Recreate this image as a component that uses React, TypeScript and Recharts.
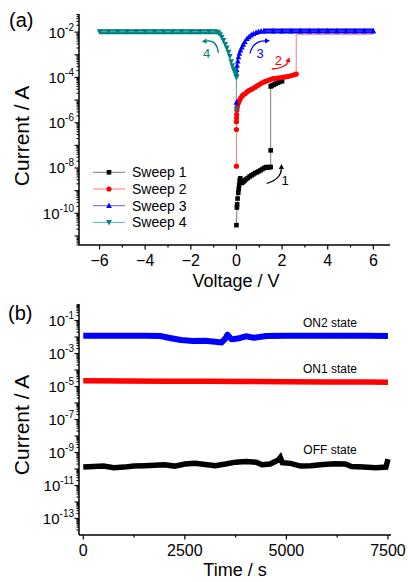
import React from "react";
import { LineChart, Line, XAxis, YAxis } from "recharts";

const FONT = "'Liberation Sans', Arial, Helvetica, sans-serif";

// (a) current-voltage sweeps, V in volts, I in amps
const sweep1V = [0, 0.02, 0.03, 0.05, 0.08, 0.1, 0.12, 0.14, 0.17, 0.2, 0.25, 0.3, 0.36, 0.42, 0.5, 0.58, 0.66, 0.74, 0.82, 0.9, 0.98, 1.06, 1.14, 1.22, 1.3, 1.38, 1.45, 1.5, 1.5, 1.5, 1.56, 1.64, 1.72, 1.8, 1.9, 2.0];
const sweep1I = [3e-11, 1.8e-10, 2.5e-10, 4.5e-10, 8e-10, 1.2e-9, 1.8e-9, 2.8e-9, 3.5e-9, 2.5e-9, 2.2e-9, 2.5e-9, 2.8e-9, 3.2e-9, 3.6e-9, 4.2e-9, 4.8e-9, 5.3e-9, 6e-9, 6.5e-9, 7.2e-9, 8e-9, 9e-9, 1e-8, 1.1e-8, 1.05e-8, 1.1e-8, 1.1e-8, 6e-8, 4e-5, 4.4e-5, 4.8e-5, 5.3e-5, 5.8e-5, 6.3e-5, 6.8e-5];

const sweep2V = [0, 0, 0, 0.005, 0.01, 0.02, 0.04, 0.07, 0.1, 0.14, 0.19, 0.25, 0.31, 0.38, 0.46, 0.54, 0.63, 0.72, 0.82, 0.92, 1.02, 1.13, 1.24, 1.36, 1.48, 1.6, 1.73, 1.86, 2.0, 2.13, 2.26, 2.4, 2.52, 2.62, 2.62, 6.0];
const sweep2I = [1.2e-8, 5e-7, 1.1e-6, 1.6e-6, 2.3e-6, 3.6e-6, 5e-6, 6.8e-6, 8.5e-6, 1e-5, 1.25e-5, 1.5e-5, 1.75e-5, 1.9e-5, 2.3e-5, 2.6e-5, 2.9e-5, 3.2e-5, 3.7e-5, 4.3e-5, 5e-5, 5.8e-5, 6.5e-5, 7.2e-5, 8e-5, 8.8e-5, 9.2e-5, 9.5e-5, 1e-4, 1.05e-4, 1.1e-4, 1.2e-4, 1.3e-4, 1.4e-4, 8e-3, 8e-3];

const sweep3V = [0, 0, 0.01, 0.03, 0.06, 0.09, 0.13, 0.18, 0.24, 0.3, 0.37, 0.46, 0.55, 0.65, 0.75, 0.86, 0.97, 1.08, 1.2, 1.6, 2.0, 2.4, 2.8, 3.2, 3.6, 4.0, 4.4, 4.8, 5.2, 5.6, 6.0];
const sweep3I = [8e-6, 1.5e-4, 2.2e-4, 3.4e-4, 5.3e-4, 8e-4, 1.15e-3, 1.6e-3, 2.2e-3, 2.9e-3, 3.8e-3, 5.1e-3, 6.2e-3, 7.4e-3, 8.5e-3, 9.6e-3, 1.05e-2, 1.1e-2, 1.12e-2, 1.12e-2, 1.12e-2, 1.12e-2, 1.12e-2, 1.12e-2, 1.12e-2, 1.12e-2, 1.12e-2, 1.12e-2, 1.12e-2, 1.12e-2, 1.12e-2];
const sweep3FlatV = [1.2, 6.0];
const sweep3FlatI = [1.12e-2, 1.12e-2];

const sweep4V = [0, 0, -0.02, -0.05, -0.09, -0.13, -0.18, -0.23, -0.29, -0.35, -0.42, -0.49, -0.57, -0.64, -0.71, -0.78, -0.85, -1.2, -1.6, -2.0, -2.4, -2.8, -3.2, -3.6, -4.0, -4.4, -4.8, -5.2, -5.6, -6.0];
const sweep4I = [4e-6, 1e-4, 1.3e-4, 1.6e-4, 1.9e-4, 2.3e-4, 3.3e-4, 5e-4, 8.5e-4, 1.3e-3, 2e-3, 2.9e-3, 4.3e-3, 6e-3, 7.8e-3, 9.3e-3, 1.02e-2, 1.05e-2, 1.05e-2, 1.05e-2, 1.05e-2, 1.05e-2, 1.05e-2, 1.05e-2, 1.05e-2, 1.05e-2, 1.05e-2, 1.05e-2, 1.05e-2, 1.05e-2];
const sweep4FlatV = [-0.85, -6.0];
const sweep4FlatI = [1.05e-2, 1.05e-2];

const voltTicks = [-6, -5, -4, -3, -2, -1, 0, 1, 2, 3, 4, 5, 6];
const voltLabels = [-6, -4, -2, 0, 2, 4, 6];
const ivLabelExps = [-10, -8, -6, -4, -2];

// (b) retention, t in seconds, I in amps
const offT = [0, 250, 500, 750, 1000, 1250, 1500, 1750, 2000, 2250, 2500, 2750, 3000, 3250, 3500, 3750, 4000, 4250, 4400, 4600, 4800, 4850, 4900, 5100, 5350, 5600, 5900, 6200, 6450, 6600, 6900, 7200, 7450, 7500];
const offI = [1.3e-10, 1.4e-10, 1.5e-10, 1.2e-10, 1.3e-10, 1.5e-10, 1.6e-10, 1.7e-10, 1.8e-10, 1.5e-10, 2.0e-10, 2.2e-10, 1.9e-10, 1.6e-10, 2.0e-10, 2.6e-10, 2.8e-10, 2.6e-10, 1.8e-10, 2.0e-10, 3.5e-10, 5e-10, 2.4e-10, 2.2e-10, 1.5e-10, 1.6e-10, 1.9e-10, 2.1e-10, 2.0e-10, 1.4e-10, 1.3e-10, 1.2e-10, 1.3e-10, 4e-10];
const on1T = [0, 1000, 2000, 3000, 4000, 5000, 6000, 7000, 7500];
const on1I = [2.2e-5, 2.15e-5, 2.1e-5, 2.05e-5, 2e-5, 1.95e-5, 1.9e-5, 1.85e-5, 1.8e-5];
const on2T = [0, 500, 1000, 1500, 1900, 2100, 2400, 2700, 3000, 3300, 3400, 3500, 3550, 3650, 3800, 4000, 4200, 4500, 5000, 5500, 6000, 6500, 7000, 7500];
const on2I = [1.2e-2, 1.2e-2, 1.2e-2, 1.2e-2, 1.15e-2, 9e-3, 6.6e-3, 5.8e-3, 6e-3, 5e-3, 4.6e-3, 8.3e-3, 1.4e-2, 7.2e-3, 8e-3, 1.1e-2, 9e-3, 1.15e-2, 1.2e-2, 1.2e-2, 1.2e-2, 1.2e-2, 1.2e-2, 1.15e-2];

const timeTicks = [0, 1250, 2500, 3750, 5000, 6250, 7500];
const timeLabels = [0, 2500, 5000, 7500];
const rtLabelExps = [-13, -11, -9, -7, -5, -3, -1];

const vDomain = [-6.9, 6.73];
const ivDomain = [Math.pow(10, -11.4), Math.pow(10, -1.2)];
const tDomain = [-105, 7575];
const rtDomain = [1e-14, 1];

const toPoints = (xs: number[], ys: number[]) => xs.map((x, k) => ({ x, y: ys[k] }));

const logTicks = (lo: number, hi: number) => {
  const out: number[] = [];
  for (let e = Math.floor(Math.log10(lo)); e <= Math.ceil(Math.log10(hi)); e++) {
    for (let m = 1; m <= 9; m++) {
      const v = m * Math.pow(10, e);
      if (v > lo * 1.001 && v < hi * 0.999) out.push(v);
    }
  }
  return out;
};

const axisStyle = { stroke: "#000", strokeWidth: 1.5 };

type Shape = "square" | "circle" | "up" | "down";

const Marker = ({ shape, cx, cy, color, size }: { shape: Shape; cx: number; cy: number; color: string; size: number }) => {
  const h = size / 2;
  if (shape === "square") return <rect x={cx - h} y={cy - h} width={size} height={size} fill={color} />;
  if (shape === "circle") return <circle cx={cx} cy={cy} r={h} fill={color} />;
  if (shape === "up")
    return <polygon points={`${cx},${cy - h * 1.15} ${cx + h},${cy + h * 0.85} ${cx - h},${cy + h * 0.85}`} fill={color} />;
  return <polygon points={`${cx},${cy + h * 1.15} ${cx + h},${cy - h * 0.85} ${cx - h},${cy - h * 0.85}`} fill={color} />;
};

const dotFor = (shape: Shape, color: string, size: number, maxI = Infinity) => (p: any) => {
  if (p.cx == null || p.cy == null || p.payload.y > maxI) return <g key={p.index} />;
  return (
    <g key={p.index}>
      <Marker shape={shape} cx={p.cx} cy={p.cy} color={color} size={size} />
    </g>
  );
};

const sweeps = [
  { name: "Sweep 1", data: toPoints(sweep1V, sweep1I), color: "#000000", line: "#7a7a7a", shape: "square" as Shape, size: 4.6, maxI: Infinity },
  { name: "Sweep 2", data: toPoints(sweep2V, sweep2I), color: "#ff0000", line: "#ff7a7a", shape: "circle" as Shape, size: 5.2, maxI: 1e-3 },
  { name: "Sweep 3", data: toPoints(sweep3V, sweep3I), color: "#0000ff", line: "#5a5aff", shape: "up" as Shape, size: 5.6, maxI: Infinity },
  { name: "Sweep 4", data: toPoints(sweep4V, sweep4I), color: "#008080", line: "#5fb0b0", shape: "down" as Shape, size: 5.6, maxI: Infinity },
];

const LinTick = ({ x, y, payload, labels, fmt }: any) => {
  const v = payload.value;
  const major = labels.includes(v);
  return (
    <g>
      <line x1={x} x2={x} y1={y} y2={y + (major ? 4.5 : 2.5)} stroke="#000" strokeWidth={1.2} />
      {major && (
        <text x={x} y={y + 21} textAnchor="middle" fontSize={16} fontFamily={FONT} fill="#000">
          {fmt(v)}
        </text>
      )}
    </g>
  );
};

const LogTick = ({ x, y, payload, exps }: any) => {
  const lg = Math.log10(payload.value);
  const e = Math.round(lg);
  const decade = Math.abs(lg - e) < 1e-6;
  return (
    <g>
      <line x1={x} x2={x - (decade ? 4.5 : 2.5)} y1={y} y2={y} stroke="#000" strokeWidth={1.1} />
      {decade && exps.includes(e) && (
        <text x={x - 5} y={y + 5.4} textAnchor="end" fontFamily={FONT} fill="#000">
          <tspan fontSize={15}>10</tspan>
          <tspan fontSize={10} dy={-7}>{String(e)}</tspan>
        </text>
      )}
    </g>
  );
};

const fmtSigned = (v: number) => (v < 0 ? `\u2212${Math.abs(v)}` : String(v));

const Arrow = ({ from, ctrl, to, color }: { from: number[]; ctrl: number[]; to: number[]; color: string }) => {
  const ang = Math.atan2(to[1] - ctrl[1], to[0] - ctrl[0]);
  const L = 5;
  const W = 2.6;
  const bx = to[0] - L * Math.cos(ang);
  const by = to[1] - L * Math.sin(ang);
  const px = -Math.sin(ang) * W;
  const py = Math.cos(ang) * W;
  return (
    <g>
      <path d={`M${from[0]},${from[1]} Q${ctrl[0]},${ctrl[1]} ${bx},${by}`} fill="none" stroke={color} strokeWidth={1.3} />
      <polygon points={`${to[0]},${to[1]} ${bx + px},${by + py} ${bx - px},${by - py}`} fill={color} />
    </g>
  );
};

const legendRows = [172.3, 189, 205.7, 222.4];

const Overlay = () => (
  <svg width={408} height={582} style={{ position: "absolute", left: 0, top: 0, pointerEvents: "none" }} fontFamily={FONT}>
    <text x={9} y={27} fontSize={20}>(a)</text>
    <text x={8} y={320} fontSize={20}>(b)</text>

    <text transform="translate(29,136) rotate(-90)" textAnchor="middle" fontSize={21}>Current / A</text>
    <text x={236} y={287} textAnchor="middle" fontSize={18}>Voltage / V</text>
    <text transform="translate(29,425) rotate(-90)" textAnchor="middle" fontSize={21}>Current / A</text>
    <text x={235} y={576} textAnchor="middle" fontSize={18}>Time / s</text>

    {sweeps.map((s, k) => (
      <g key={s.name}>
        <line x1={93} x2={125} y1={legendRows[k]} y2={legendRows[k]} stroke={s.line} strokeWidth={1} />
        <Marker shape={s.shape} cx={109} cy={legendRows[k]} color={s.color} size={s.size} />
        <text x={132} y={legendRows[k] + 5} fontSize={14}>{s.name}</text>
      </g>
    ))}

    <Arrow from={[218.3, 52.7]} ctrl={[217, 40]} to={[201.7, 41.5]} color="#008080" />
    <text x={206.7} y={58} textAnchor="middle" fontSize={13} fill="#008080">4</text>
    <Arrow from={[250, 53.3]} ctrl={[253, 41]} to={[270, 40.7]} color="#0000ff" />
    <text x={260} y={57.5} textAnchor="middle" fontSize={13} fill="#0000ff">3</text>
    <Arrow from={[271.7, 69]} ctrl={[286, 68]} to={[289.3, 57.3]} color="#ff0000" />
    <text x={278.3} y={64.5} textAnchor="middle" fontSize={13} fill="#ff0000">2</text>
    <Arrow from={[266.7, 183.5]} ctrl={[281, 179]} to={[281.5, 164]} color="#000000" />
    <text x={285} y={184.5} textAnchor="middle" fontSize={13}>1</text>

    <text x={330} y={326.5} textAnchor="middle" fontSize={12}>ON2 state</text>
    <text x={330} y={373} textAnchor="middle" fontSize={12}>ON1 state</text>
    <text x={330} y={454} textAnchor="middle" fontSize={12}>OFF state</text>
  </svg>
);

const IVChart = () => (
  <LineChart width={408} height={290} margin={{ top: 14, right: 18, bottom: 0, left: 0 }}>
    <XAxis
      type="number"
      dataKey="x"
      domain={vDomain}
      ticks={voltTicks}
      interval={0}
      allowDataOverflow
      height={45}
      tickSize={0}
      tickMargin={0}
      tickLine={false}
      axisLine={axisStyle}
      tick={(p: any) => <LinTick {...p} labels={voltLabels} fmt={fmtSigned} />}
    />
    <XAxis xAxisId="top" orientation="top" type="number" domain={vDomain} allowDataOverflow height={0} tick={false} tickLine={false} axisLine={axisStyle} />
    <YAxis
      type="number"
      scale="log"
      domain={ivDomain}
      ticks={logTicks(ivDomain[0], ivDomain[1])}
      interval={0}
      allowDataOverflow
      width={79}
      tickSize={0}
      tickMargin={0}
      tickLine={false}
      axisLine={axisStyle}
      tick={(p: any) => <LogTick {...p} exps={ivLabelExps} />}
    />
    <YAxis yAxisId="right" orientation="right" type="number" domain={[0, 1]} width={0} tick={false} tickLine={false} axisLine={axisStyle} />
    <Line data={toPoints(sweep4FlatV, sweep4FlatI)} dataKey="y" stroke="#008080" strokeWidth={5} dot={false} activeDot={false} isAnimationActive={false} legendType="none" />
    <Line data={toPoints(sweep3FlatV, sweep3FlatI)} dataKey="y" stroke="#0000ff" strokeWidth={5} dot={false} activeDot={false} isAnimationActive={false} legendType="none" />
    {sweeps.map((s) => (
      <Line
        key={s.name}
        name={s.name}
        data={s.data}
        dataKey="y"
        stroke={s.line}
        strokeWidth={1}
        dot={dotFor(s.shape, s.color, s.size, s.maxI)}
        activeDot={false}
        isAnimationActive={false}
      />
    ))}
  </LineChart>
);

const RetentionChart = () => (
  <LineChart width={408} height={292} margin={{ top: 14, right: 17, bottom: 0, left: 0 }}>
    <XAxis
      type="number"
      dataKey="x"
      domain={tDomain}
      ticks={timeTicks}
      interval={0}
      allowDataOverflow
      height={47}
      tickSize={0}
      tickMargin={0}
      tickLine={false}
      axisLine={axisStyle}
      tick={(p: any) => <LinTick {...p} labels={timeLabels} fmt={(v: number) => String(v)} />}
    />
    <XAxis xAxisId="top" orientation="top" type="number" domain={tDomain} allowDataOverflow height={0} tick={false} tickLine={false} axisLine={axisStyle} />
    <YAxis
      type="number"
      scale="log"
      domain={rtDomain}
      ticks={logTicks(rtDomain[0], rtDomain[1])}
      interval={0}
      allowDataOverflow
      width={79}
      tickSize={0}
      tickMargin={0}
      tickLine={false}
      axisLine={axisStyle}
      tick={(p: any) => <LogTick {...p} exps={rtLabelExps} />}
    />
    <YAxis yAxisId="right" orientation="right" type="number" domain={[0, 1]} width={0} tick={false} tickLine={false} axisLine={axisStyle} />
    <Line data={toPoints(offT, offI)} dataKey="y" stroke="#000000" strokeWidth={5.5} strokeLinejoin="miter" dot={false} activeDot={false} isAnimationActive={false} />
    <Line data={toPoints(on1T, on1I)} dataKey="y" stroke="#ff0000" strokeWidth={5.5} dot={false} activeDot={false} isAnimationActive={false} />
    <Line data={toPoints(on2T, on2I)} dataKey="y" stroke="#0000ff" strokeWidth={6} strokeLinejoin="round" dot={false} activeDot={false} isAnimationActive={false} />
  </LineChart>
);

export default function App() {
  return (
    <div style={{ position: "absolute", left: 0, top: 0, width: 408, height: 582, background: "#fff", overflow: "hidden" }}>
      <div style={{ position: "absolute", left: 0, top: 0 }}>
        <IVChart />
      </div>
      <div style={{ position: "absolute", left: 0, top: 290 }}>
        <RetentionChart />
      </div>
      <Overlay />
    </div>
  );
}
